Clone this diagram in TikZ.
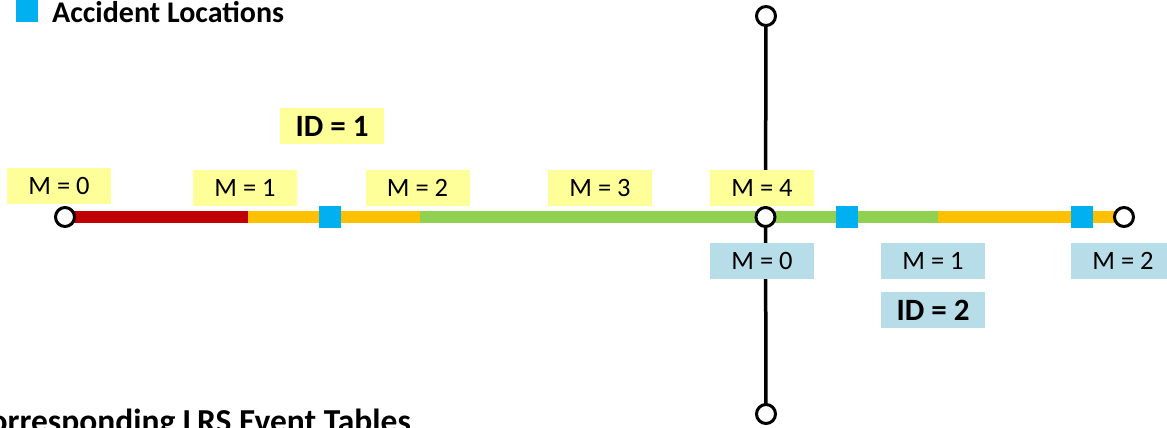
\documentclass[tikz,border=0pt]{standalone}
\usepackage{fontspec}
\setmainfont{Carlito}
\usetikzlibrary{backgrounds}
\definecolor{lrsred}{HTML}{C00000}
\definecolor{lrsorange}{HTML}{FFC000}
\definecolor{lrsgreen}{HTML}{92D050}
\definecolor{accblue}{HTML}{00B0F0}
\definecolor{labyellow}{HTML}{FFFF99}
\definecolor{labblue}{HTML}{B7DDE8}
\begin{document}
\begin{tikzpicture}[x=1pt,y=-1pt,
  ylab/.style={fill=labyellow, minimum width=104pt, minimum height=36pt, inner sep=0pt, font=\fontsize{26.5}{30}\selectfont},
  blab/.style={fill=labblue, minimum width=104pt, minimum height=36pt, inner sep=0pt, font=\fontsize{26.5}{30}\selectfont},
  idlab/.style={font=\bfseries\fontsize{31}{34}\selectfont},
  endpt/.style={circle, draw=black, line width=3pt, fill=white, minimum size=19pt, inner sep=0pt},
  acc/.style={fill=accblue, minimum size=22pt, inner sep=0pt},
  seg/.style={line width=12pt},
  vline/.style={line width=3.5pt, black},
  title/.style={font=\bfseries\fontsize{30}{34}\selectfont, inner sep=0pt}]
\useasboundingbox (0,0) rectangle (1167,428);
\clip (0,0) rectangle (1167,428);
% legend
\node[acc] (leg) at (27,11) {};
\node[title, anchor=base west] (legtext) at (52,23) {Accident Locations};
% route end points
\node[endpt] (L) at (65,217) {};
\node[endpt] (J) at (765.5,217) {};
\node[endpt] (R) at (1124,217) {};
\node[endpt] (T) at (766,16) {};
\node[endpt] (B) at (766,414) {};
\coordinate (r1) at (248,217);
\coordinate (r2) at (420,217);
\coordinate (r3) at (938,217);
\begin{scope}[on background layer]
  \draw[vline] (T.center) -- (J.center) -- (B.center);
  \draw[seg, lrsred] (L.center) -- (r1);
  \draw[seg, lrsorange] (r1) -- (r2);
  \draw[seg, lrsgreen] (r2) -- (r3);
  \draw[seg, lrsorange] (r3) -- (R.center);
\end{scope}
% accident locations
\node[acc] (a1) at (329.5,217) {};
\node[acc] (a2) at (846.5,217) {};
\node[acc] (a3) at (1081.5,217) {};
% measure labels route 1
\node[ylab] (m10) at (59,186) {M = 0};
\node[ylab] (m11) at (245,188) {M = 1};
\node[ylab] (m12) at (417.5,188) {M = 2};
\node[ylab] (m13) at (600,188) {M = 3};
\node[ylab] (m14) at (762,188) {M = 4};
\node[ylab, idlab] (id1) at (332,126) {ID = 1};
% measure labels route 2
\node[blab] (m20) at (762,261) {M = 0};
\node[blab] (m21) at (933,261) {M = 1};
\node[blab] (m22) at (1123,261) {M = 2};
\node[blab, idlab] (id2) at (933,310) {ID = 2};
% cut-off heading
\node[title, font=\bfseries\fontsize{33.5}{37}\selectfont, anchor=base east] (tables) at (411,432) {Corresponding LRS Event Tables};
\end{tikzpicture}
\end{document}
